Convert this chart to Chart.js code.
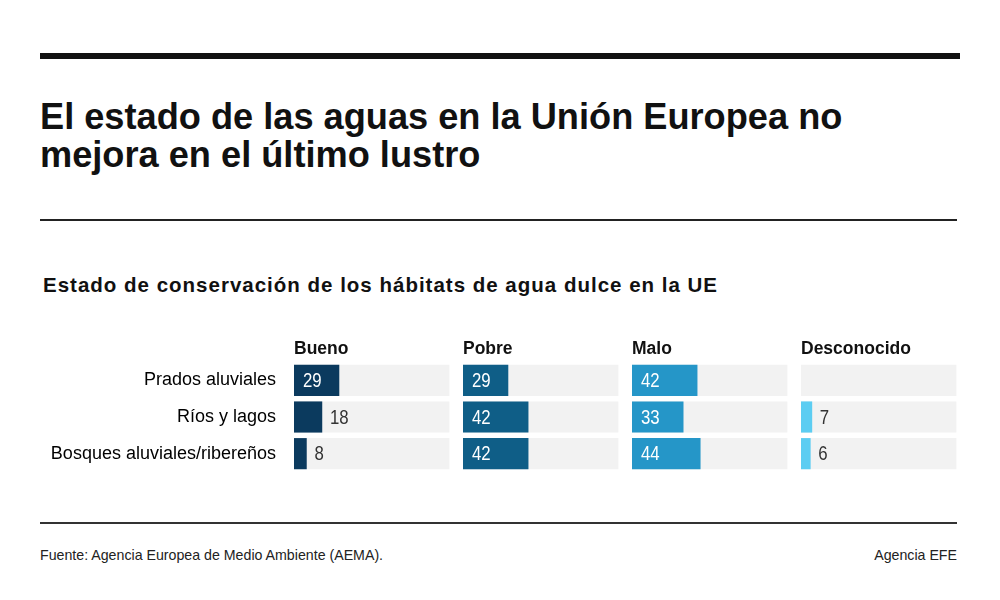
<!DOCTYPE html>
<html>
<head>
<meta charset="utf-8">
<script src="https://cdn.jsdelivr.net/npm/chart.js@4.4.1/dist/chart.umd.min.js"></script>
<style>
  body { margin: 0; background: #fff; width: 1000px; height: 600px; position: relative; overflow: hidden;
         font-family: "Liberation Sans", Arial, sans-serif; color: #111; }
  .rule-top { position: absolute; left: 40px; top: 53px; width: 920px; height: 6px; background: #111; }
  h1 { position: absolute; left: 40px; top: 98px; margin: 0; font-size: 36.2px; line-height: 38px; font-weight: bold; }
  .rule-mid { position: absolute; left: 40px; top: 219px; width: 917px; height: 2px; background: #222; }
  h2 { position: absolute; left: 43px; top: 275px; margin: 0; font-size: 20.5px; line-height: 20px; font-weight: bold; letter-spacing: 1px; }
  #myChart { position: absolute; left: 0; top: 330px; }
  .rule-bot { position: absolute; left: 40px; top: 522px; width: 917px; height: 2px; background: #333; }
  .foot { position: absolute; top: 548px; font-size: 14.2px; line-height: 14.5px; color: #222; }
</style>
</head>
<body>
<div class="rule-top"></div>
<h1>El estado de las aguas en la Unión Europea no<br>mejora en el último lustro</h1>
<div class="rule-mid"></div>
<h2>Estado de conservación de los hábitats de agua dulce en la UE</h2>
<canvas id="myChart" width="1000" height="160"></canvas>
<div class="rule-bot"></div>
<div class="foot" style="left:40px">Fuente: Agencia Europea de Medio Ambiente (AEMA).</div>
<div class="foot" style="right:43px">Agencia EFE</div>

<script>
// habitats (rows)
const categories = ["Prados aluviales", "Ríos y lagos", "Bosques aluviales/ribereños"]
// conservation status (panels)
const statusLabels = ["Bueno", "Pobre", "Malo", "Desconocido"]
// % of assessments per status
const bueno = [29, 18, 8]
const pobre = [29, 42, 42]
const malo = [42, 33, 44]
const desconocido = [null, 7, 6]
// grey background track (100 %)
const track = [100, 100, 100]

const series = [bueno, pobre, malo, desconocido]
const colors = ["#0b3a5e", "#0f5e87", "#2596c8", "#5ccdf2"]
const fontFamily = '"Liberation Sans", Arial, sans-serif'

// Draw the numbers inside / next to each bar (narrow look via horizontal squeeze)
const valueLabels = {
    id: "valueLabels",
    afterDatasetsDraw(chart) {
        const ctx = chart.ctx
        chart.data.datasets.forEach((ds, di) => {
            if (!ds.showValue) return
            chart.getDatasetMeta(di).data.forEach((bar, j) => {
                const v = ds.data[j]
                if (v == null) return
                const inside = v >= 25
                ctx.save()
                ctx.translate(inside ? bar.base + 9 : bar.x + 8, bar.y + 1)
                ctx.scale(0.84, 1)
                ctx.font = "20px " + fontFamily
                ctx.textBaseline = "middle"
                ctx.textAlign = "left"
                ctx.fillStyle = inside ? "#fff" : "#333"
                ctx.fillText(String(v), 0, 0)
                ctx.restore()
            })
        })
    },
}

const datasets = []
const scales = {
    y: {
        grid: { display: false, drawTicks: false },
        border: { display: false },
        ticks: { color: "#000", padding: 18, font: { family: fontFamily, size: 18 } },
        afterFit: (s) => {
            s.width = 294
            // the tick padding would otherwise eat into the plot height
            s.paddingTop = 0
            s.paddingBottom = 0
        },
    },
}

series.forEach((values, i) => {
    const axisId = "x" + i
    datasets.push({
        label: statusLabels[i],
        data: values,
        xAxisID: axisId,
        backgroundColor: colors[i],
        showValue: true,
        order: 0,
    })
    datasets.push({
        label: "fondo",
        data: track,
        xAxisID: axisId,
        backgroundColor: "#f2f2f2",
        order: 1,
    })
    scales[axisId] = {
        type: "linear",
        position: "top",
        stack: "estado",
        stackWeight: 1,
        weight: series.length - i, // top boxes are sorted in reverse: keeps panels left-to-right
        min: 0,
        max: 109, // leaves the white gap between panels
        grid: { display: false, drawTicks: false },
        border: { display: false },
        ticks: { display: false },
        title: {
            display: true,
            text: statusLabels[i],
            align: "start",
            color: "#111",
            padding: { top: 9, bottom: 0 },
            font: { family: fontFamily, size: 17.5, weight: "bold" },
        },
        afterFit: (s) => { s.height = 32 },
    }
})

new Chart(document.getElementById("myChart").getContext("2d"), {
    type: "bar",
    data: { labels: categories, datasets: datasets },
    options: {
        indexAxis: "y",
        responsive: false,
        animation: false,
        datasets: { bar: { barThickness: 30.5, grouped: false } },
        layout: { padding: { left: 0, right: 30, top: 0, bottom: 18 } },
        scales: scales,
        plugins: { legend: { display: false }, tooltip: { enabled: false } },
    },
    plugins: [valueLabels],
})
</script>
</body>
</html>
